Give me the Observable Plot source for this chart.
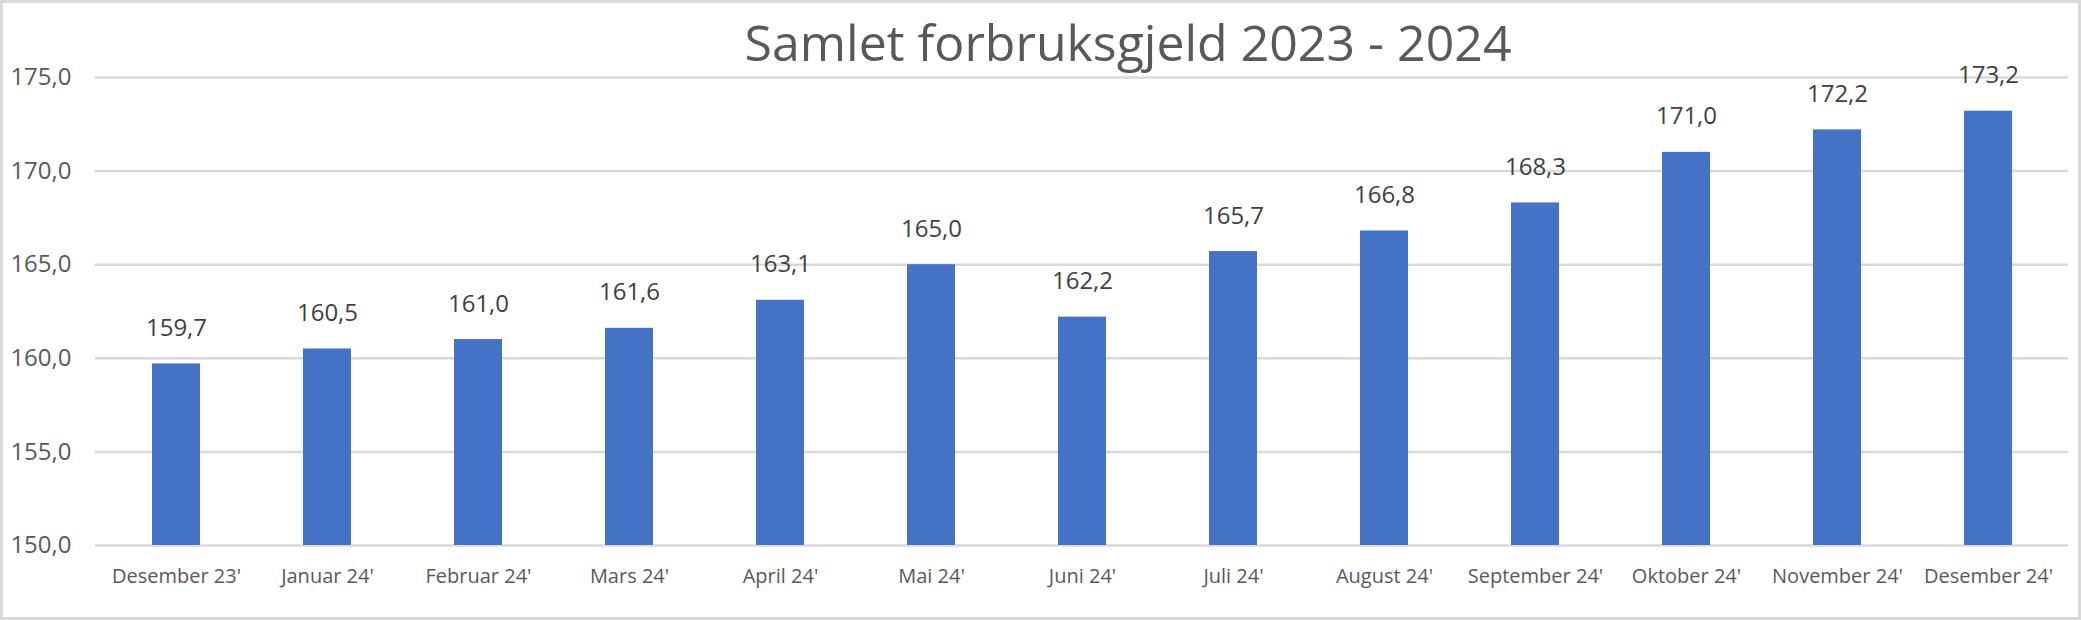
<!DOCTYPE html>
<html>
<head>
<meta charset="utf-8">
<script src="https://cdn.jsdelivr.net/npm/d3@7"></script>
<script src="https://cdn.jsdelivr.net/npm/@observablehq/plot@0.6"></script>
<style>
  html, body { margin: 0; padding: 0; background: #fff; }
  #wrap { position: relative; width: 2081px; height: 620px; overflow: hidden; background: #fff; }
  #title { position: absolute; top: 17px; left: 1128px; transform: translateX(-50%);
    font-family: "Open Sans", sans-serif; font-size: 50px; line-height: 50px; color: #595959; white-space: nowrap; }
  #frame { position: absolute; left: 0; top: 0; width: 2081px; height: 620px; box-sizing: border-box;
    border: 3px solid #d9d9d9; pointer-events: none; }
  svg { display: block; }
</style>
</head>
<body>
<div id="wrap">
  <div id="chart"></div>
  <div id="title">Samlet forbruksgjeld 2023 - 2024</div>
  <div id="frame"></div>
</div>
<script>
const months = ["Desember 23'", "Januar 24'", "Februar 24'", "Mars 24'", "April 24'", "Mai 24'",
  "Juni 24'", "Juli 24'", "August 24'", "September 24'", "Oktober 24'", "November 24'", "Desember 24'"];
const values = [159.7, 160.5, 161.0, 161.6, 163.1, 165.0, 162.2, 165.7, 166.8, 168.3, 171.0, 172.2, 173.2];
const yTicks = [150, 155, 160, 165, 170, 175];
const yMin = 150, yMax = 175;

const data = months.map((m, i) => ({month: m, value: values[i]}));
const fmt = d => d.toFixed(1).replace(".", ",");

const chart = Plot.plot({
  width: 2081,
  height: 620,
  marginLeft: 95,
  marginRight: 13,
  marginTop: 77,
  marginBottom: 75,
  style: {background: "transparent", fontFamily: "'Open Sans', sans-serif", overflow: "visible"},
  x: {domain: months, paddingInner: 0.684, paddingOuter: 0.342, label: null},
  y: {domain: [yMin, yMax], label: null},
  marks: [
    Plot.ruleY(yTicks, {stroke: "#d9d9d9", strokeWidth: 2.5}),
    Plot.barY(data, {x: "month", y1: yMin, y2: "value", fill: "#4472C4"}),
    Plot.text(data, {x: "month", y: "value", text: d => fmt(d.value), lineAnchor: "bottom",
      dy: -28, fontSize: 24, fill: "#404040"}),
    Plot.axisY({ticks: yTicks, tickFormat: fmt, tickSize: 0, tickPadding: 24, fontSize: 24,
      fill: "#595959", label: null}),
    Plot.axisX({tickSize: 0, tickPadding: 23, fontSize: 20, fill: "#595959", label: null})
  ]
});
document.getElementById("chart").appendChild(chart);
</script>
</body>
</html>
